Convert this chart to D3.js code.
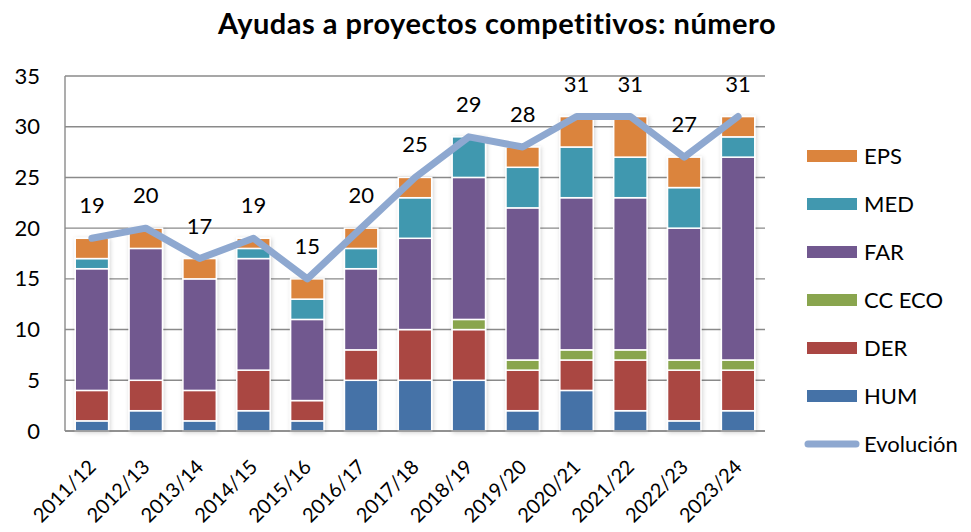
<!DOCTYPE html>
<html>
<head>
<meta charset="utf-8">
<script src="https://cdn.jsdelivr.net/npm/d3@7"></script>
<style>
  body { margin: 0; background: #fff; }
  svg text { font-family: Lato, "Open Sans", sans-serif; fill: #000; }
</style>
</head>
<body>
<div id="chart"></div>
<script>
// Data
const years = ["2011/12", "2012/13", "2013/14", "2014/15", "2015/16", "2016/17", "2017/18",
               "2018/19", "2019/20", "2020/21", "2021/22", "2022/23", "2023/24"];
const HUM   = [1, 2, 1, 2, 1, 5, 5, 5, 2, 4, 2, 1, 2];
const DER   = [3, 3, 3, 4, 2, 3, 5, 5, 4, 3, 5, 5, 4];
const CCECO = [0, 0, 0, 0, 0, 0, 0, 1, 1, 1, 1, 1, 1];
const FAR   = [12, 13, 11, 11, 8, 8, 9, 14, 15, 15, 15, 13, 20];
const MED   = [1, 0, 0, 1, 2, 2, 4, 4, 4, 5, 4, 4, 2];
const EPS   = [2, 2, 2, 1, 2, 2, 2, 0, 2, 3, 4, 3, 2];
const evolucion = [19, 20, 17, 19, 15, 20, 25, 29, 28, 31, 31, 27, 31];
const yTicks = [0, 5, 10, 15, 20, 25, 30, 35];

const seriesNames = ["HUM", "DER", "CC ECO", "FAR", "MED", "EPS"];
const seriesValues = [HUM, DER, CCECO, FAR, MED, EPS];
const colors = ["#4572A7", "#AA4643", "#89A54E", "#71588F", "#4198AF", "#DB843D"];
const lineColor = "#8EA8D0";

// Dimensions
const W = 971, H = 532;
const plot = { left: 65, right: 765, top: 76, bottom: 431 };

const svg = d3.select("#chart").append("svg")
    .attr("width", W)
    .attr("height", H);

// soft shadow round the bars
const defs = svg.append("defs");
const shadow = defs.append("filter").attr("id", "shadow")
    .attr("x", "-30%").attr("y", "-30%").attr("width", "160%").attr("height", "160%");
shadow.append("feDropShadow")
    .attr("dx", 1).attr("dy", 1).attr("stdDeviation", 2)
    .attr("flood-color", "#000").attr("flood-opacity", 0.18);

// Title
svg.append("text")
    .attr("x", 497)
    .attr("y", 34)
    .attr("text-anchor", "middle")
    .style("font-size", "29px")
    .style("font-weight", "bold")
    .style("letter-spacing", "0.5px")
    .text("Ayudas a proyectos competitivos: número");

// Scales
const x = d3.scaleBand()
    .domain(years)
    .range([plot.left, plot.right])
    .paddingInner(0.38)
    .paddingOuter(0.19);

const y = d3.scaleLinear()
    .domain([0, 35])
    .range([plot.bottom, plot.top]);

// Gridlines
svg.append("g")
    .selectAll("line")
    .data(yTicks)
    .enter().append("line")
    .attr("x1", plot.left)
    .attr("x2", plot.right)
    .attr("y1", d => y(d))
    .attr("y2", d => y(d))
    .attr("stroke", "#8a8a8a")
    .attr("stroke-width", 1.4);

// Y axis line
svg.append("line")
    .attr("x1", plot.left).attr("x2", plot.left)
    .attr("y1", plot.top).attr("y2", plot.bottom)
    .attr("stroke", "#8a8a8a")
    .attr("stroke-width", 1.4);

// Y tick labels
const yAxis = svg.append("g")
    .attr("transform", `translate(${plot.left},0)`)
    .call(d3.axisLeft(y).tickValues(yTicks).tickSize(0).tickPadding(25));
yAxis.select(".domain").remove();
yAxis.selectAll("text")
    .style("font-size", "22px")
    .style("font-family", "Lato, sans-serif")
    .attr("fill", "#000");

// Stacked bars
const table = years.map((yr, i) => {
    const row = { year: yr };
    seriesNames.forEach((s, j) => row[s] = seriesValues[j][i]);
    return row;
});
const stacked = d3.stack().keys(seriesNames)(table);

const barGroup = svg.append("g").attr("filter", "url(#shadow)");
barGroup.selectAll("g")
    .data(stacked)
    .enter().append("g")
    .attr("fill", (d, i) => colors[i])
    .selectAll("rect")
    .data(d => d.filter(p => p[1] - p[0] > 0))
    .enter().append("rect")
    .attr("x", d => x(d.data.year))
    .attr("width", x.bandwidth())
    .attr("y", d => y(d[1]))
    .attr("height", d => y(d[0]) - y(d[1]))
    .attr("stroke", "#fff")
    .attr("stroke-width", 1.5);

// Bottom axis line
svg.append("line")
    .attr("x1", plot.left).attr("x2", plot.right)
    .attr("y1", plot.bottom).attr("y2", plot.bottom)
    .attr("stroke", "#8a8a8a")
    .attr("stroke-width", 1.4);

// X labels (rotated)
const xAxis = svg.append("g")
    .attr("transform", `translate(0,${plot.bottom})`)
    .call(d3.axisBottom(x).tickSize(0).tickPadding(0));
xAxis.select(".domain").remove();
xAxis.selectAll("text")
    .style("font-size", "20px")
    .style("font-family", "Lato, sans-serif")
    .attr("fill", "#000")
    .attr("text-anchor", "end")
    .attr("dy", "0.72em")
    .attr("y", 0)
    .attr("transform", "translate(-5,27) rotate(-45)");

// Evolution line
const cx = d => x(d) + x.bandwidth() / 2;
const line = d3.line()
    .x((d, i) => cx(years[i]))
    .y(d => y(d));

svg.append("path")
    .datum(evolucion)
    .attr("d", line)
    .attr("fill", "none")
    .attr("stroke", lineColor)
    .attr("stroke-width", 7)
    .attr("stroke-linecap", "round")
    .attr("stroke-linejoin", "round");

// Data labels
svg.append("g")
    .selectAll("text")
    .data(evolucion)
    .enter().append("text")
    .attr("x", (d, i) => cx(years[i]))
    .attr("y", d => y(d) - 25)
    .attr("text-anchor", "middle")
    .style("font-size", "22px")
    .text(d => d);

// Legend
const legendItems = seriesNames.map((s, i) => ({ name: s, color: colors[i] })).reverse();
const legend = svg.append("g");
legendItems.forEach((d, i) => {
    const ly = 156 + i * 48;
    legend.append("rect")
        .attr("x", 807).attr("y", ly - 6)
        .attr("width", 50).attr("height", 12)
        .attr("fill", d.color);
    legend.append("text")
        .attr("x", 864).attr("y", ly + 8)
        .style("font-size", "22px")
        .text(d.name);
});
const ly = 156 + 6 * 48;
legend.append("line")
    .attr("x1", 808).attr("x2", 856)
    .attr("y1", ly).attr("y2", ly)
    .attr("stroke", lineColor)
    .attr("stroke-width", 7)
    .attr("stroke-linecap", "round");
legend.append("text")
    .attr("x", 864).attr("y", ly + 8)
    .style("font-size", "22px")
    .text("Evolución");
</script>
</body>
</html>
